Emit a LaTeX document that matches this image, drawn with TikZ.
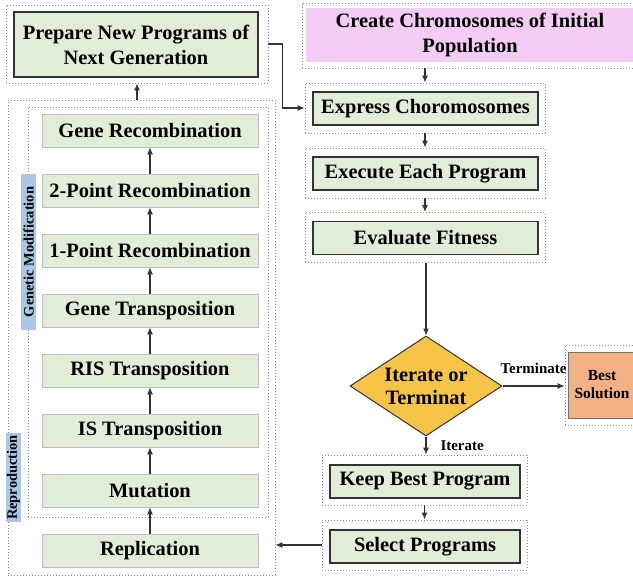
\documentclass[tikz,border=0pt]{standalone}
\usepackage{fontspec}
\setmainfont{Liberation Serif}
\usetikzlibrary{positioning,arrows.meta,shapes.geometric}
\definecolor{cStep}{HTML}{E2EDD8}
\definecolor{cStart}{HTML}{F5CCF6}
\definecolor{cDecide}{HTML}{F6C446}
\definecolor{cResult}{HTML}{F4B183}
\definecolor{cSide}{HTML}{A9C8E6}
\definecolor{cLine}{HTML}{333333}

\tikzset{
  frame/.style={draw=black!45,dash pattern=on 1bp off 2bp,line width=0.9bp},
  stepbox/.style={draw=cLine,fill=cStep,line width=1.3bp,inner sep=0pt,align=center,
    font=\bfseries\fontsize{20.5}{25}\selectfont},
  opbox/.style={stepbox,draw=black!25,line width=0.6bp,minimum width=216bp,minimum height=33bp},
  sidelab/.style={fill=cSide,rotate=90,inner sep=0pt,minimum height=15bp,
    font=\bfseries\fontsize{14.5}{14.5}\selectfont},
  flow/.style={draw=cLine,line width=1.1bp,-{Latex[length=7bp,width=6bp]}},
  flowlab/.style={font=\bfseries\fontsize{15}{15}\selectfont,inner sep=2bp}
}

\begin{document}
\begin{tikzpicture}[x=1bp,y=-1bp]
  \useasboundingbox (0,0) rectangle (633,577);

  % main loop, right column
  \node[frame,minimum width=336bp,minimum height=65bp] (createF) at (470,35.5) {};
  \node[stepbox,draw=none,fill=cStart,minimum width=328bp,minimum height=54bp] (create) at (470,35) {Create Chromosomes of Initial\\Population};
  \node[frame,minimum width=240bp,minimum height=50bp] (exprF) at (425,108) {};
  \node[stepbox,minimum width=225bp,minimum height=33bp] (expr) at (425.5,108.5) {Express Choromosomes};
  \node[frame,minimum width=240bp,minimum height=50bp] (execF) at (425,173) {};
  \node[stepbox,minimum width=225bp,minimum height=33bp] (exec) at (425.5,173.5) {Execute Each Program};
  \node[frame,minimum width=240bp,minimum height=50bp] (evalF) at (425,237.5) {};
  \node[stepbox,minimum width=225bp,minimum height=33bp] (eval) at (425.5,238) {Evaluate Fitness};
  \node[diamond,aspect=1.52,draw=cLine,fill=cDecide,line width=1bp,inner sep=0pt,
        minimum width=152bp,minimum height=100bp,align=center,
        font=\bfseries\fontsize{20.5}{23}\selectfont] (decide) at (426,386) {Iterate or\\Terminat};
  \node[frame,minimum width=75bp,minimum height=80bp] (bestF) at (602.5,385) {};
  \node[stepbox,fill=cResult,draw=black!55,line width=1bp,minimum width=68bp,minimum height=66bp,
        font=\bfseries\fontsize{15.5}{18}\selectfont] (best) at (602,385) {Best\\Solution};
  \node[frame,minimum width=205bp,minimum height=50bp] (keepF) at (424.5,480) {};
  \node[stepbox,minimum width=190bp,minimum height=33bp] (keep) at (425,481.5) {Keep Best Program};
  \node[frame,minimum width=205bp,minimum height=50bp] (selF) at (424.5,545) {};
  \node[stepbox,minimum width=190bp,minimum height=33bp] (sel) at (425,546.5) {Select Programs};

  % new generation, left column
  \node[frame,minimum width=262bp,minimum height=78bp] (prepF) at (137,44) {};
  \node[stepbox,minimum width=244bp,minimum height=65bp] (prep) at (136,44.5) {Prepare New Programs of\\Next Generation};
  \node[frame,minimum width=267bp,minimum height=475bp] (outerF) at (141.5,337.5) {};
  \node[frame,minimum width=240bp,minimum height=410bp] (genF) at (148,312) {};
  \node[opbox] (recomb) at (150,130.5) {Gene Recombination};
  \node[opbox] (twopt) at (150,190.5) {2-Point Recombination};
  \node[opbox] (onept) at (150,250.5) {1-Point Recombination};
  \node[opbox] (genetr) at (150,310.5) {Gene Transposition};
  \node[opbox] (ristr) at (150,370.5) {RIS Transposition};
  \node[opbox] (istr) at (150,430.5) {IS Transposition};
  \node[opbox] (mutate) at (150,490.5) {Mutation};
  \node[opbox] (replic) at (150,550.5) {Replication};
  \node[sidelab,minimum width=156bp] (gmLab) at (28.5,252) {Genetic Modification};
  \node[sidelab,minimum width=89bp] (repLab) at (13.5,477.5) {Reproduction};

  % connectors
  \draw[flow] (createF.south -| exprF.north) -- (exprF.north);
  \draw[flow] (exprF.south) -- (execF.north);
  \draw[flow] (execF.south) -- (evalF.north);
  \draw[flow] (evalF.south -| decide.north) -- (decide.north);
  \draw[flow] (decide.east) -- node[flowlab,above=10bp] {Terminate} (decide.east -| bestF.west);
  \draw[flow] (decide.south) -- node[flowlab,right=12bp] {Iterate} (decide.south |- keepF.north);
  \draw[flow] (keepF.south) -- (selF.north);
  \draw[flow] (selF.west) -- (selF.west -| outerF.east);
  \draw[flow] (replic.north) -- (mutate.south);
  \draw[flow] (mutate.north) -- (istr.south);
  \draw[flow] (istr.north) -- (ristr.south);
  \draw[flow] (ristr.north) -- (genetr.south);
  \draw[flow] (genetr.north) -- (onept.south);
  \draw[flow] (onept.north) -- (twopt.south);
  \draw[flow] (twopt.north) -- (recomb.south);
  \draw[flow] (outerF.north -| prepF.south) -- (prepF.south);
  \draw[flow] (prepF.east) -- ++(14,0) |- (exprF.west);
\end{tikzpicture}
\end{document}
